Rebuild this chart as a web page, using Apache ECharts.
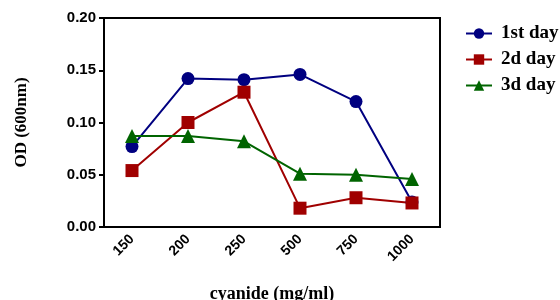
<!DOCTYPE html>
<html>
<head>
<meta charset="utf-8">
<title>cyanide OD</title>
<script src="https://cdn.jsdelivr.net/npm/echarts@6/dist/echarts.min.js"></script>
<style>
body{margin:0;background:#fff;}
#chart{width:560px;height:300px;}
</style>
</head>
<body>
<div id="chart"></div>
<script>
// data
var doses = ['150', '200', '250', '500', '750', '1000'];
var day1 = [0.077, 0.142, 0.141, 0.146, 0.120, 0.024];
var day2 = [0.054, 0.100, 0.129, 0.018, 0.028, 0.023];
var day3 = [0.087, 0.087, 0.082, 0.051, 0.050, 0.046];
var yTicks = [0, 0.05, 0.10, 0.15, 0.20];

var myChart = echarts.init(document.getElementById('chart'));

function line(name, data, color, symbol, size) {
  return {
    name: name,
    type: 'line',
    data: data,
    symbol: symbol,
    symbolSize: size,
    itemStyle: {color: color},
    lineStyle: {color: color, width: 2},
    emphasis: {disabled: true}
  };
}

var option = {
  animation: false,
  grid: {
    left: 104, right: 120, top: 18, bottom: 73,
    outerBoundsMode: 'none',
    show: true, borderColor: '#000', borderWidth: 2
  },
  legend: {
    orient: 'vertical',
    left: 460, top: 19,
    itemWidth: 26, itemHeight: 13, itemGap: 7,
    textStyle: {fontFamily: 'Liberation Serif', fontWeight: 'bold', fontSize: 19, color: '#000', padding: [0, 0, 0, 4]},
    data: ['1st day', '2d day', '3d day']
  },
  xAxis: {
    type: 'category',
    data: doses,
    name: 'cyanide (mg/ml)',
    nameLocation: 'middle',
    nameGap: 58,
    nameTextStyle: {fontFamily: 'Liberation Serif', fontWeight: 'bold', fontSize: 18, color: '#000'},
    axisLine: {lineStyle: {color: '#000', width: 2}},
    axisTick: {alignWithLabel: true, length: 5, lineStyle: {color: '#000', width: 2}},
    axisLabel: {rotate: 45, margin: 10, fontFamily: 'Liberation Sans', fontWeight: 'bold', fontSize: 14, color: '#000'}
  },
  yAxis: {
    type: 'value',
    min: yTicks[0], max: yTicks[yTicks.length - 1], interval: 0.05,
    name: 'OD (600nm)',
    nameLocation: 'middle',
    nameGap: 74,
    nameTextStyle: {fontFamily: 'Liberation Serif', fontWeight: 'bold', fontSize: 17, color: '#000'},
    axisLine: {show: true, lineStyle: {color: '#000', width: 2}},
    axisTick: {show: true, length: 5, lineStyle: {color: '#000', width: 2}},
    splitLine: {show: false},
    axisLabel: {
      margin: 8, fontFamily: 'Liberation Sans', fontWeight: 'bold', fontSize: 15, color: '#000',
      formatter: function (v) { return v.toFixed(2); }
    }
  },
  series: [
    line('1st day', day1, '#000080', 'circle', 13),
    line('2d day', day2, '#a00000', 'rect', 13),
    line('3d day', day3, '#006400', 'triangle', 14)
  ]
};

myChart.setOption(option, true);
</script>
</body>
</html>
